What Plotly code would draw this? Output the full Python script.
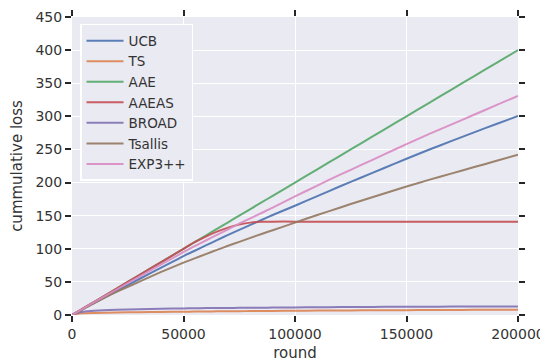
import plotly.graph_objects as go

rounds = [0, 2000, 5000, 10000, 20000, 30000, 40000, 50000, 55000, 60000, 65000, 70000, 75000, 80000,
          85000, 90000, 100000, 110000, 120000, 130000, 140000, 150000, 160000, 170000, 180000, 190000, 200000]

ucb = [0, 3.7, 9.3, 18.5, 36.5, 54, 71.5, 89, 97, 105, 113, 121, 128.5, 136, 143.5, 151, 165, 179.5, 194, 208, 222, 236, 249.5, 262.5, 275.5, 288, 300.5]
ts = [0, 1.5, 2.5, 3, 3.8, 4.3, 4.7, 5, 5.2, 5.4, 5.5, 5.7, 5.8, 5.9, 6.0, 6.1, 6.5, 6.7, 6.9, 7.0, 7.2, 7.3, 7.5, 7.6, 7.8, 7.9, 8]
aae = [0, 4, 10, 20, 40, 60, 80, 100, 110, 120, 130, 140, 150, 160, 170, 180, 200, 220, 240, 260, 280, 300, 320, 340, 360, 380, 400]
aaeas = [0, 4, 10, 20, 40, 60, 80, 100, 110, 118.5, 126, 132, 136.5, 139.5, 140.8, 141, 141, 141, 141, 141, 141, 141, 141, 141, 141, 141, 141]
broad = [0, 3, 5, 6.5, 8, 8.8, 9.4, 10, 10.2, 10.4, 10.6, 10.7, 10.8, 10.9, 11.0, 11.2, 11.5, 11.7, 11.9, 12.1, 12.3, 12.5, 12.6, 12.7, 12.8, 12.9, 13]
tsallis = [0, 3.6, 9, 18, 35, 50, 65, 79, 85.5, 92, 98.3, 104.5, 110.5, 116.5, 122.3, 128, 139.5, 151, 162, 173, 183.5, 194, 204, 213.5, 223, 232.5, 242]
exp3pp = [0, 3.9, 9.7, 19.4, 38.5, 57.5, 76.5, 95, 104, 112.5, 121, 129.5, 138, 146, 154, 162, 179, 195.5, 211.5, 227, 242.5, 258, 273, 287.5, 302, 316.5, 331]

series = [("UCB", ucb, "#4C72B0"), ("TS", ts, "#DD8452"), ("AAE", aae, "#55A868"),
          ("AAEAS", aaeas, "#C44E52"), ("BROAD", broad, "#8172B3"),
          ("Tsallis", tsallis, "#937860"), ("EXP3++", exp3pp, "#DA8BC3")]

x_ticks = [0, 50000, 100000, 150000, 200000]
y_ticks = [0, 50, 100, 150, 200, 250, 300, 350, 400, 450]

fig = go.Figure()
for name, vals, col in series:
    fig.add_trace(go.Scatter(x=rounds, y=vals, mode="lines", name=name,
                             line=dict(color=col, width=2, shape="spline", smoothing=0.6), opacity=0.9))

axis_common = dict(
    showgrid=True, gridcolor="white", gridwidth=1.2, zeroline=False,
    showline=True, linecolor="white", linewidth=1,
    mirror="ticks", ticks="outside", ticklen=6, tickwidth=1.5, automargin=False,
    tickcolor="#262626", tickfont=dict(family="DejaVu Sans", size=14, color="#333333"),
)

fig.update_layout(
    width=540, height=354,
    margin=dict(l=64, r=30, t=9, b=47),
    paper_bgcolor="white", plot_bgcolor="#EAEAF2",
    font=dict(family="DejaVu Sans", color="#262626"),
    xaxis=dict(range=[0, 200000], tickvals=x_ticks, tickformat="d",
               title=dict(text="round", font=dict(size=15, color="#333333"), standoff=7),
               **axis_common),
    yaxis=dict(range=[0, 450], tickvals=y_ticks,
               title=dict(text="cummulative loss", font=dict(size=15, color="#333333"), standoff=14),
               **axis_common),
    legend=dict(x=0.018, y=0.977, xanchor="left", yanchor="top", itemwidth=37,
                bgcolor="#EAEAF2", bordercolor="white", borderwidth=1.5,
                font=dict(family="DejaVu Sans", size=13.5, color="#333333")),
    showlegend=True,
)

fig.write_html("out.html")
